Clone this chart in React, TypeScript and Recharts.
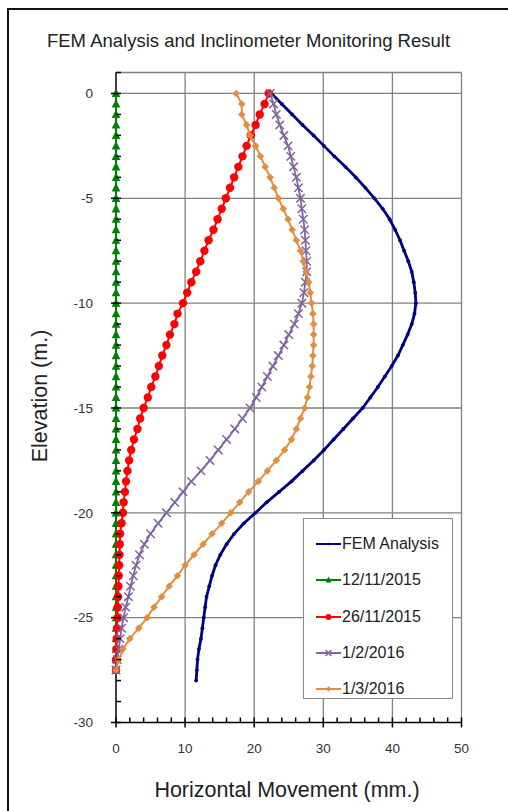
import { CartesianGrid, Legend, Scatter, ScatterChart, XAxis, YAxis } from "recharts";

// elevation (m.) of each reading, 0.5 m spacing
const ELEVATION = [
  0, -0.5, -1, -1.5, -2, -2.5, -3, -3.5, -4, -4.5, -5, -5.5, -6, -6.5, -7, -7.5, -8, -8.5, -9, -9.5,
  -10, -10.5, -11, -11.5, -12, -12.5, -13, -13.5, -14, -14.5, -15, -15.5, -16, -16.5, -17, -17.5,
  -18, -18.5, -19, -19.5, -20, -20.5, -21, -21.5, -22, -22.5, -23, -23.5, -24, -24.5, -25, -25.5,
  -26, -26.5, -27, -27.5, -28,
];

// horizontal movement (mm.)
const FEM_ANALYSIS = [
  22.5, 24.0, 25.5, 27.0, 28.6, 30.1, 31.6, 33.2, 34.7, 36.1, 37.4, 38.6, 39.6, 40.4, 41.1, 41.7,
  42.3, 42.8, 43.1, 43.3, 43.4, 43.2, 42.8, 42.2, 41.5, 40.8, 39.9, 38.9, 37.9, 36.8, 35.7, 34.3,
  32.9, 31.5, 30.1, 28.6, 27.0, 25.4, 23.6, 21.8, 20.2, 18.5, 17.1, 16.0, 15.1, 14.4, 13.9, 13.5,
  13.1, 12.9, 12.7, 12.5, 12.3, 12.0, 11.8, 11.7, 11.6,
];

const READ_12_11_2015 = [
  0, 0, 0, 0, 0, 0, 0, 0, 0, 0, 0, 0, 0, 0, 0, 0, 0, 0, 0, 0, 0, 0, 0, 0, 0, 0, 0, 0,
  0, 0, 0, 0, 0, 0, 0, 0, 0, 0, 0, 0, 0, 0, 0, 0, 0, 0, 0, 0, 0, 0, 0, 0, 0, 0, 0, 0,
];

const READ_26_11_2015 = [
  22.1, 21.5, 20.8, 20.2, 19.5, 18.9, 18.3, 17.7, 17.1, 16.5, 15.9, 15.3, 14.7, 14.1, 13.4, 12.8,
  12.2, 11.6, 10.9, 10.3, 9.7, 8.9, 8.45, 7.8, 7.3, 6.7, 6.2, 5.7, 5.1, 4.6, 4.0, 3.5, 3.1, 2.6,
  2.2, 1.9, 1.65, 1.45, 1.3, 1.1, 1.0, 0.8, 0.6, 0.55, 0.5, 0.45, 0.4, 0.35, 0.3, 0.25, 0.2, 0.15,
  0.1, 0.05, 0, 0,
];

const READ_1_2_2016 = [
  22.3, 22.8, 23.2, 23.7, 24.3, 24.9, 25.3, 25.7, 26.1, 26.4, 26.7, 26.9, 27.1, 27.3, 27.4, 27.5,
  27.6, 27.6, 27.4, 27.2, 26.9, 26.4, 25.8, 25.0, 24.3, 23.5, 22.7, 21.9, 21.1, 20.3, 19.4, 18.3,
  17.2, 16.0, 14.8, 13.6, 12.3, 10.9, 9.7, 8.5, 7.3, 6.1, 5.0, 4.1, 3.4, 2.9, 2.5, 2.1, 1.8, 1.4,
  1.1, 0.8, 0.6, 0.4, 0.2, 0,
];

const READ_1_3_2016 = [
  17.4, 18.2, 18.2, 18.9, 19.4, 20.2, 20.9, 21.6, 22.3, 22.9, 23.5, 24.2, 24.9, 25.5, 26.1, 26.7,
  27.1, 27.5, 27.9, 28.1, 28.3, 28.5, 28.6, 28.6, 28.6, 28.5, 28.4, 28.2, 28.0, 27.7, 27.3, 26.7,
  26.1, 25.4, 24.4, 23.2, 21.9, 20.6, 19.2, 17.9, 16.6, 15.3, 13.9, 12.6, 11.3, 10.0, 8.9, 7.7,
  6.6, 5.5, 4.5, 3.3, 2.0, 1.0, 0.4, 0,
];

const X_TICKS = [0, 2, 4, 6, 8, 10, 12, 14, 16, 18, 20, 22, 24, 26, 28, 30, 32, 34, 36, 38, 40, 42, 44, 46, 48, 50];
const Y_TICKS = [
  1, 0, -1, -2, -3, -4, -5, -6, -7, -8, -9, -10, -11, -12, -13, -14, -15, -16, -17, -18, -19, -20,
  -21, -22, -23, -24, -25, -26, -27, -28, -29, -30,
];
const GRID_X = [10, 20, 30, 40, 50];
const GRID_Y = [1, 0, -5, -10, -15, -20, -25];

const FONT = "Arial, 'Liberation Sans', sans-serif";
const PLOT_LEFT = 116;
const PLOT_BOTTOM = 722.5;

const toPoints = (vals: number[]) => vals.map((v, i) => ({ x: v, y: ELEVATION[i] }));

type Kind = "dot" | "triangle" | "circle" | "cross" | "diamond";

function Marker({ kind, cx, cy, color, small }: { kind: Kind; cx: number; cy: number; color: string; small?: boolean }) {
  if (cx == null || cy == null) return <g />;
  const k = small ? 0.7 : 1;
  switch (kind) {
    case "dot":
      return <circle cx={cx} cy={cy} r={1.9 * k} fill={color} />;
    case "triangle":
      return (
        <polygon
          points={`${cx},${cy - 5 * k} ${cx + 4.3 * k},${cy + 3.6 * k} ${cx - 4.3 * k},${cy + 3.6 * k}`}
          fill={color}
        />
      );
    case "circle":
      return <circle cx={cx} cy={cy} r={4.2 * k} fill={color} />;
    case "cross": {
      const h = 4.2 * k;
      return (
        <path
          d={`M${cx - h},${cy - h}L${cx + h},${cy + h}M${cx - h},${cy + h}L${cx + h},${cy - h}`}
          stroke={color}
          strokeWidth={1.5}
        />
      );
    }
    default: {
      const h = 3.8 * k;
      return <polygon points={`${cx},${cy - h} ${cx + h},${cy} ${cx},${cy + h} ${cx - h},${cy}`} fill={color} />;
    }
  }
}

const SERIES: { name: string; values: number[]; color: string; kind: Kind; width: number }[] = [
  { name: "FEM Analysis", values: FEM_ANALYSIS, color: "#000080", kind: "dot", width: 2.8 },
  { name: "12/11/2015", values: READ_12_11_2015, color: "#008000", kind: "triangle", width: 2 },
  { name: "26/11/2015", values: READ_26_11_2015, color: "#FF0000", kind: "circle", width: 2 },
  { name: "1/2/2016", values: READ_1_2_2016, color: "#7E65A0", kind: "cross", width: 1.8 },
  { name: "1/3/2016", values: READ_1_3_2016, color: "#E38D40", kind: "diamond", width: 2 },
];

function YTick(props: any) {
  const { y, payload } = props;
  const v = payload.value as number;
  const major = v <= 0 && v % 5 === 0;
  return (
    <g>
      <line x1={major ? PLOT_LEFT - 5 : PLOT_LEFT} x2={PLOT_LEFT + 5} y1={y} y2={y} stroke="#000" strokeWidth={1.5} />
      {major && (
        <text x={93} y={y} dy="0.35em" textAnchor="end" fontSize={13.5} fill="#333" fontFamily={FONT}>
          {v}
        </text>
      )}
    </g>
  );
}

function XTick(props: any) {
  const { x, payload } = props;
  const v = payload.value as number;
  const major = v % 10 === 0;
  return (
    <g>
      <line x1={x} x2={x} y1={PLOT_BOTTOM - 5} y2={major ? PLOT_BOTTOM + 5 : PLOT_BOTTOM} stroke="#000" strokeWidth={1.5} />
      {major && (
        <text x={x} y={PLOT_BOTTOM + 26} dy="0.35em" textAnchor="middle" fontSize={13.5} fill="#333" fontFamily={FONT}>
          {v}
        </text>
      )}
    </g>
  );
}

function LegendBox() {
  return (
    <div style={{ border: "1.5px solid #8a8a8a", background: "#fff", width: 150, height: 181, boxSizing: "border-box", paddingTop: 7 }}>
      {SERIES.map((s) => (
        <div key={s.name} style={{ display: "flex", alignItems: "center", height: 36.3, fontFamily: FONT, fontSize: 16, color: "#222" }}>
          <svg width={38} height={12} style={{ marginLeft: 11 }}>
            <line x1={1} x2={26} y1={6} y2={6} stroke={s.color} strokeWidth={2} />
            <Marker kind={s.kind} cx={13.5} cy={6} color={s.color} small />
          </svg>
          <span style={{ marginLeft: -11 }}>{s.name}</span>
        </div>
      ))}
    </div>
  );
}

export default function App() {
  return (
    <div style={{ position: "absolute", left: 0, top: 0, width: 508, height: 811, overflow: "hidden", background: "#fff" }}>
      <div
        style={{
          position: "absolute",
          left: 7,
          top: 8,
          width: 600,
          height: 900,
          borderTop: "2px solid #111",
          borderLeft: "2px solid #111",
        }}
      />
      <div style={{ position: "absolute", left: 0, width: 497, top: 30, textAlign: "center", fontFamily: FONT, fontSize: 18.5, color: "#222" }}>
        FEM Analysis and Inclinometer Monitoring Result
      </div>
      <div
        style={{
          position: "absolute",
          left: 40,
          top: 396,
          transform: "translate(-50%, -50%) rotate(-90deg)",
          whiteSpace: "nowrap",
          fontFamily: FONT,
          fontSize: 21.5,
          color: "#222",
        }}
      >
        Elevation (m.)
      </div>
      <div style={{ position: "absolute", left: 287, top: 790, transform: "translate(-50%, -50%)", whiteSpace: "nowrap", fontFamily: FONT, fontSize: 21.5, color: "#222" }}>
        Horizontal Movement (mm.)
      </div>
      <div style={{ position: "absolute", left: 0, top: 0 }}>
        <ScatterChart width={508} height={811} margin={{ top: 72.5, right: 46.5, bottom: 58.5, left: 56 }}>
          <CartesianGrid horizontalValues={GRID_Y} verticalValues={GRID_X} stroke="#808080" strokeWidth={1.3} syncWithTicks={false} />
          <XAxis
            type="number"
            dataKey="x"
            domain={[0, 50]}
            ticks={X_TICKS}
            interval={0}
            height={30}
            tickLine={false}
            axisLine={{ stroke: "#000", strokeWidth: 1.5 }}
            tick={<XTick />}
          />
          <YAxis
            type="number"
            dataKey="y"
            domain={[-30, 1]}
            ticks={Y_TICKS}
            interval={0}
            width={60}
            tickLine={false}
            axisLine={{ stroke: "#000", strokeWidth: 1.5 }}
            tick={<YTick />}
          />
          <Legend
            layout="vertical"
            align="center"
            verticalAlign="middle"
            wrapperStyle={{ left: 303, top: 518, width: 150, height: 181 }}
            content={<LegendBox />}
          />
          {SERIES.map((s) => (
            <Scatter
              key={s.name}
              name={s.name}
              data={toPoints(s.values)}
              line={{ stroke: s.color, strokeWidth: s.width }}
              lineType="joint"
              isAnimationActive={false}
              shape={(p: any) => <Marker kind={s.kind} cx={p.cx} cy={p.cy} color={s.color} />}
            />
          ))}
        </ScatterChart>
      </div>
    </div>
  );
}
